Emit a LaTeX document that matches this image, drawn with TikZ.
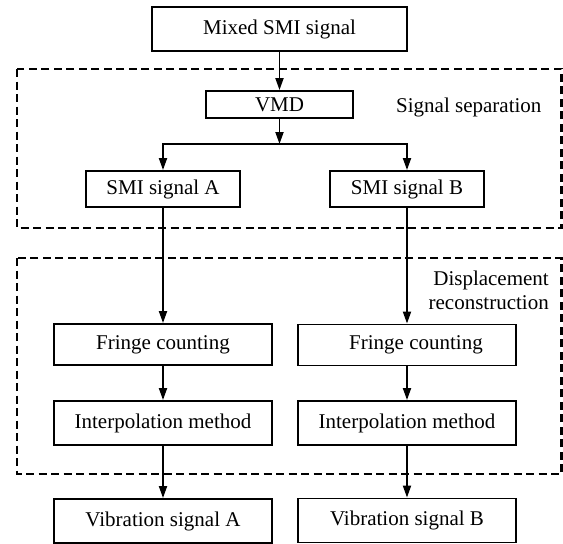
\documentclass[tikz,border=0pt]{standalone}
\usepackage{fontspec}
\setmainfont{Liberation Serif}
\usetikzlibrary{arrows.meta}
\begin{document}
\begin{tikzpicture}[x=1pt,y=-1pt,
  box/.style={draw, line width=1.9pt, inner sep=0pt, font=\fontsize{21}{25}\selectfont},
  lbl/.style={inner sep=0pt, font=\fontsize{21}{25}\selectfont},
  arr/.style={line width=1.9pt, -{Triangle[length=12pt,width=8pt]}},
  dashbox/.style={line width=2.2pt, dash pattern=on 8pt off 4.5pt}]
\useasboundingbox (0,0) rectangle (563,544);
% dashed groups
\draw[dashbox] (17,69) rectangle (561.5,228);
\draw[dashbox] (17,258) rectangle (561.5,474);
% boxes
\node[box, minimum width=255pt, minimum height=44pt] (mixed) at (279.5,29) {Mixed SMI signal};
\node[box, minimum width=147pt, minimum height=27pt] (vmd) at (279.5,104.5) {VMD};
\node[box, minimum width=154pt, minimum height=36pt] (sa) at (163,189) {SMI signal A};
\node[box, minimum width=154pt, minimum height=36pt] (sb) at (407,189) {SMI signal B};
\node[box, minimum width=218pt, minimum height=41pt] (fa) at (163,344.5) {Fringe counting};
\node[box, minimum width=218pt, minimum height=41pt] (fb) at (407,345) {\hspace*{18pt}Fringe counting};
\node[box, minimum width=218pt, minimum height=44pt] (ia) at (163,423) {Interpolation method};
\node[box, minimum width=218pt, minimum height=44pt] (ib) at (407,423) {Interpolation method};
\node[box, minimum width=218pt, minimum height=44pt] (va) at (163,521) {Vibration signal A};
\node[box, minimum width=218pt, minimum height=44pt] (vb) at (407,520.5) {Vibration signal B};
% group labels
\node[lbl, anchor=base west] (sep) at (396,112) {Signal separation};
\node[lbl, anchor=base east] (disp1) at (549,285) {Displacement};
\node[lbl, anchor=base east] (disp2) at (549,309) {reconstruction};
% connectors
\coordinate (j) at (279.5,144);
\draw[arr] (mixed) -- (vmd);
\draw[arr] (vmd) -- (j);
\draw[arr] (j) -| (sa);
\draw[arr] (j) -| (sb);
\draw[arr] (sa) -- (fa);
\draw[arr] (sb) -- (fb);
\draw[arr] (fa) -- (ia);
\draw[arr] (fb) -- (ib);
\draw[arr] (ia) -- (va);
\draw[arr] (ib) -- (vb);
\end{tikzpicture}
\end{document}
